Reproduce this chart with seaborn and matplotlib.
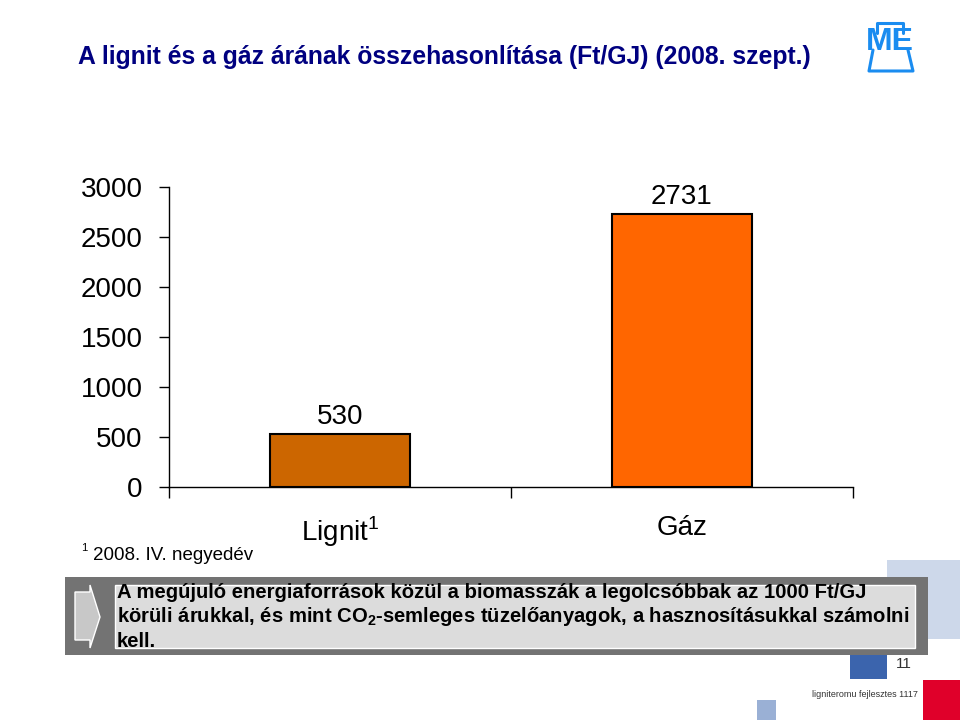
import matplotlib
matplotlib.use('Agg')
import matplotlib.pyplot as plt
import seaborn as sns
import pandas as pd
from matplotlib.patches import Rectangle, Polygon

# chart data
categories = ['Lignit', 'Gáz']
tick_labels = ['Lignit$^{1}$', 'Gáz']
prices = [530, 2731]
bar_colors = ['#CC6600', '#FF6600']
yticks = [0, 500, 1000, 1500, 2000, 2500, 3000]

title = 'A lignit és a gáz árának összehasonlítása (Ft/GJ) (2008. szept.)'
footnote = '2008. IV. negyedév'
box_lines = [
    'A megújuló energiaforrások közül a biomasszák a legolcsóbbak az 1000 Ft/GJ',
    'körüli árukkal, és mint CO$_\\mathbf{2}$-semleges tüzelőanyagok, a hasznosításukkal számolni',
    'kell.',
]

sns.set_theme(style='ticks')
plt.rcParams['font.family'] = ['Liberation Sans', 'DejaVu Sans']
plt.rcParams['mathtext.fontset'] = 'custom'
plt.rcParams['mathtext.rm'] = 'Liberation Sans'
plt.rcParams['mathtext.bf'] = 'Liberation Sans:bold'

df = pd.DataFrame({'cat': categories, 'price': prices})

fig = plt.figure(figsize=(9.6, 7.2), dpi=100)
ax = fig.add_axes([169 / 960, 1 - 487 / 720, (853 - 169) / 960, 300 / 720])
sns.barplot(data=df, x='cat', y='price', hue='cat', palette=bar_colors,
            width=0.41, saturation=1, edgecolor='black', linewidth=1.5,
            legend=False, ax=ax)

for cont in ax.containers:
    ax.bar_label(cont, fmt='%d', fontsize=20, padding=3, color='black')

ax.set_ylim(0, 3000)
ax.set_xlim(-0.5, 1.5)
ax.set_yticks(yticks)
ax.tick_params(axis='y', labelsize=20, length=7, width=1, color='black',
               direction='out', pad=12, labelcolor='black')
# category boundaries as major ticks, names on minor ticks
ax.set_xticks([-0.5, 0.5, 1.5])
ax.set_xticklabels(['', '', ''])
ax.set_xticks([0, 1], minor=True)
ax.set_xticklabels(tick_labels, minor=True)
ax.tick_params(axis='x', which='major', length=8, width=1, color='black', direction='out')
ax.tick_params(axis='x', which='minor', length=0, labelsize=20, pad=20, labelcolor='black')
ax.set_xlabel('')
ax.set_ylabel('')
sns.despine(ax=ax)
for s in ['left', 'bottom']:
    ax.spines[s].set_color('black')
    ax.spines[s].set_linewidth(1)

# decorations in pixel coordinates
deco = fig.add_axes([0, 0, 1, 1])
deco.set_xlim(0, 960)
deco.set_ylim(720, 0)
deco.axis('off')
deco.patch.set_visible(False)

deco.text(78, 64, title, fontsize=17.8, fontweight='bold', color='#000080', va='baseline')

# logo
lc = '#1A8CF0'
deco.plot([877, 877, 903, 903], [33, 23, 23, 33], color=lc, lw=2.2)
deco.plot([873, 869, 913, 908], [50, 71, 71, 50], color=lc, lw=2.2)
deco.text(890, 42, 'ME', fontsize=23, fontweight='bold', color=lc, ha='center', va='center')

deco.text(81, 551, '1', fontsize=8, color='black', va='baseline')
deco.text(93, 560, footnote, fontsize=13.5, color='black', va='baseline')

# side squares
deco.add_patch(Rectangle((887, 560), 73, 79, color='#CDD8EA', lw=0))
deco.add_patch(Rectangle((850, 655), 37, 24, color='#3B64AD', lw=0))
deco.add_patch(Rectangle((923, 680), 37, 40, color='#E0002A', lw=0))
deco.add_patch(Rectangle((757, 700), 19, 20, color='#9AB0D5', lw=0))

# message box
deco.add_patch(Rectangle((65, 577), 863, 78, color='#737373', lw=0))
deco.add_patch(Rectangle((115, 585), 800, 63, facecolor='#DCDCDC', edgecolor='white', lw=1))
deco.add_patch(Polygon([(75, 592), (90, 592), (90, 585), (100, 617), (90, 648), (90, 640), (75, 640)],
                       closed=True, facecolor='#C8C8C8', edgecolor='white', lw=1))
for i, line in enumerate(box_lines):
    deco.text(117, 598 + 24.5 * i, line, fontsize=14.6, fontweight='bold', color='black', va='baseline')

deco.text(912, 668, '11', fontsize=11, color='#333333', ha='right', va='baseline')
deco.text(918, 697, 'ligniteromu fejlesztes 1117', fontsize=6.5, color='#333333', ha='right', va='baseline')

fig.savefig('out.png', dpi=100)
